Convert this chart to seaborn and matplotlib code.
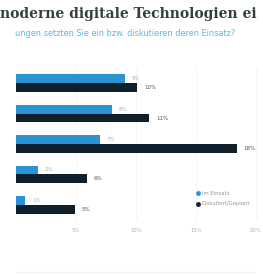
import matplotlib
matplotlib.use("Agg")
import matplotlib.pyplot as plt
from matplotlib.lines import Line2D
import seaborn as sns
import pandas as pd

# --- data ---
categories = ["A", "B", "C", "D", "E"]
in_use = [9.1, 8.0, 7.0, 1.8, 0.75]
planned = [10.1, 11.1, 18.4, 5.9, 4.9]
in_use_labels = ["9%", "8%", "7%", "2%", "1%"]
planned_labels = ["10%", "11%", "18%", "6%", "5%"]
series_names = ["Im Einsatz", "Diskutiert/Geplant"]
x_ticks = [5, 10, 15, 20]
x_tick_labels = ["5%", "10%", "15%", "20%"]

BLUE = "#2b93d3"
DARK = "#0f202c"

df = pd.DataFrame({
    "cat": categories * 2,
    "value": in_use + planned,
    "series": [series_names[0]] * 5 + [series_names[1]] * 5,
})

sns.set_style("white")
fig = plt.figure(figsize=(2.63, 2.79), dpi=100)
ax = fig.add_axes([16 / 263, 59 / 279, 247 / 263, 152 / 279])

sns.barplot(data=df, y="cat", x="value", hue="series", orient="h",
            palette=[BLUE, DARK], width=0.58, saturation=1, linewidth=0,
            legend=False, ax=ax)

ax.set_xlim(0, 20.6)
ax.set_ylim(4.5, -0.5)
ax.set_xticks(x_ticks)
ax.set_xticklabels(x_tick_labels, fontsize=3.8, color="#b0b0b0")
ax.set_yticks([])
ax.set_xlabel("")
ax.set_ylabel("")
ax.tick_params(axis="x", length=0, pad=6)
ax.grid(axis="x", color="#f2f2f2", linewidth=0.6)
ax.set_axisbelow(True)
sns.despine(ax=ax, left=True, bottom=True)

# value labels
for cont, labels, col in zip(ax.containers, [in_use_labels, planned_labels],
                             ["#a5b8c6", "#555555"]):
    ax.bar_label(cont, labels=labels, padding=5, fontsize=4, color=col)

handles = [Line2D([], [], marker="o", linestyle="", markersize=2.5, color=c)
           for c in (BLUE, DARK)]
ax.legend(handles, series_names, loc="center left", bbox_to_anchor=(0.71, 0.14),
          frameon=False, fontsize=3.8, handletextpad=0.3, labelspacing=1.0,
          labelcolor="#999999", handlelength=0.8)

fig.text(0, 1 - 14 / 279, "noderne digitale Technologien ei", fontsize=10,
         fontweight="bold", family="DejaVu Serif", color="#33403f", va="center")
fig.text(15 / 263, 1 - 33 / 279,
         "ungen setzten Sie ein bzw. diskutieren deren Einsatz?",
         fontsize=5.9, color="#5ab8e6", va="center")
fig.add_artist(Line2D([16 / 263, 255 / 263], [1 - 272 / 279] * 2,
                      color="#f2f2f2", linewidth=0.8))

fig.savefig("out.png", dpi=100, facecolor="white")
